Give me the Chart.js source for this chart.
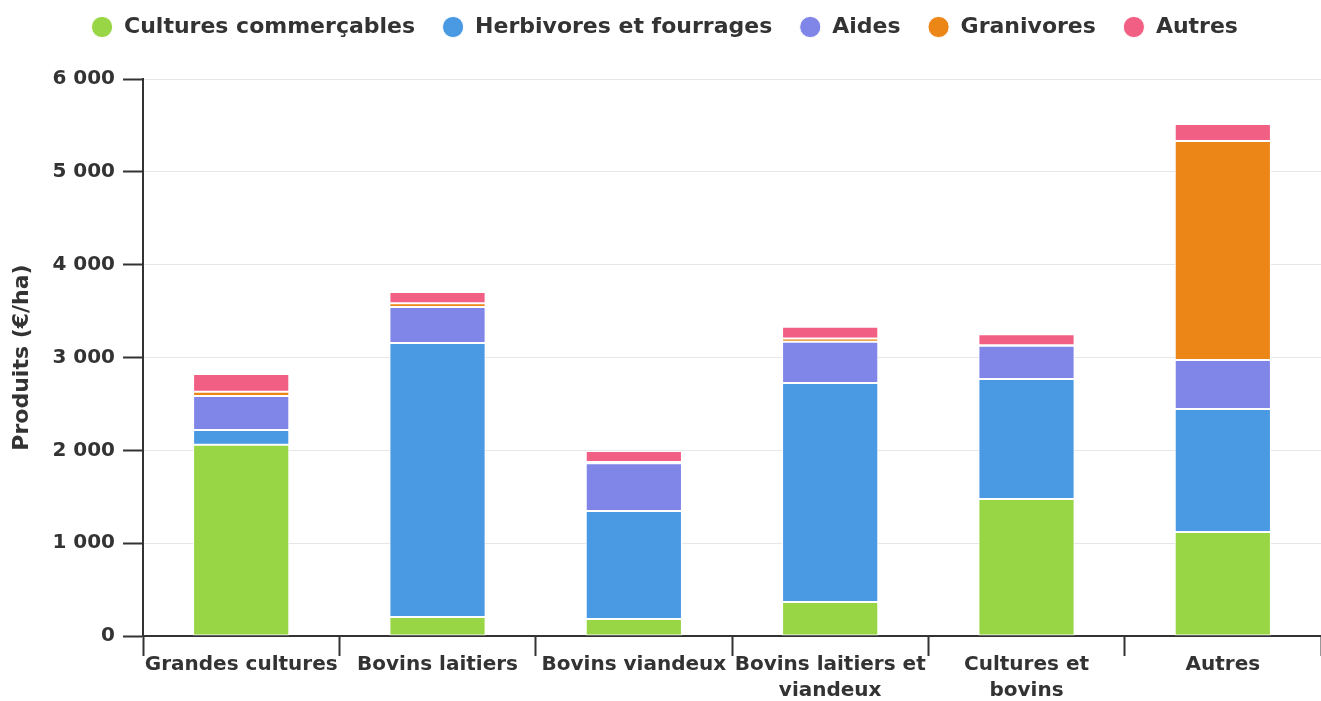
<!DOCTYPE html>
<html><head><meta charset="utf-8">
<script src="https://cdn.jsdelivr.net/npm/chart.js@4/dist/chart.umd.min.js"></script>
<style>html,body{margin:0;padding:0;background:#fff}#wrap{width:1321px;height:701px}</style>
</head><body><div id="wrap"><canvas id="c"></canvas></div>
<script>
const categories = ["Grandes cultures", "Bovins laitiers", "Bovins viandeux", ["Bovins laitiers et", "viandeux"], ["Cultures et", "bovins"], "Autres"];
const culturesCommercables = [2060, 205, 183, 366, 1476, 1120];
const herbivoresFourrages = [160, 2950, 1164, 2360, 1292, 1325];
const aides = [365, 390, 515, 444, 359, 528];
const granivores = [45, 40, 12, 35, 5, 2359];
const autres = [192, 120, 120, 127, 118, 183];
const yTicks = [0, 1000, 2000, 3000, 4000, 5000, 6000];

const FONT = "'DejaVu Sans', sans-serif";
const mk = (label, data, color) => ({label, data, backgroundColor: color, borderColor: '#ffffff', borderWidth: 1, borderSkipped: false, barPercentage: 0.49, categoryPercentage: 1.0});

const legendMargin = {
  id: 'legendMargin',
  beforeInit(chart) {
    const fit = chart.legend.fit;
    chart.legend.fit = function () { fit.bind(chart.legend)(); this.height += 31; };
  }
};

new Chart(document.getElementById('c'), {
  type: 'bar',
  data: {
    labels: categories,
    datasets: [
      mk('Cultures commerçables', culturesCommercables, '#98d645'),
      mk('Herbivores et fourrages', herbivoresFourrages, '#4a99e3'),
      mk('Aides', aides, '#8085e8'),
      mk('Granivores', granivores, '#eb8617'),
      mk('Autres', autres, '#f25f84')
    ]
  },
  plugins: [legendMargin],
  options: {
    responsive: true, maintainAspectRatio: false, animation: false,
    layout: {padding: {top: -11, right: 0, left: 8, bottom: 1}},
    plugins: {
      legend: {
        position: 'top',
        labels: {usePointStyle: true, pointStyle: 'circle', boxWidth: 22, boxHeight: 15, padding: 27,
          color: '#333', font: {family: FONT, weight: 'bold', size: 22}}
      },
      tooltip: {enabled: false}
    },
    scales: {
      x: {
        stacked: true,
        grid: {drawOnChartArea: false, tickColor: '#333', tickLength: 20, tickWidth: 2, offset: true},
        border: {color: '#333', width: 2},
        ticks: {color: '#333', maxRotation: 0, autoSkip: false, padding: -4, font: {family: FONT, weight: 'bold', size: 20, lineHeight: 1.3}}
      },
      y: {
        stacked: true, min: 0, max: 6000,
        afterBuildTicks: (ax) => { ax.ticks = yTicks.map(v => ({value: v})); },
        grid: {color: '#e6e6e6', lineWidth: 1, tickColor: '#333', tickLength: 20, tickWidth: 2},
        border: {color: '#333', width: 2},
        title: {display: true, text: 'Produits (€/ha)', color: '#333', font: {family: FONT, weight: 'bold', size: 22}, padding: {top: 1, bottom: 9}},
        ticks: {color: '#333', padding: 8, font: {family: FONT, weight: 'bold', size: 20},
          callback: (v) => String(v).replace(/\B(?=(\d{3})+(?!\d))/g, ' ')}
      }
    }
  }
});
</script></body></html>
